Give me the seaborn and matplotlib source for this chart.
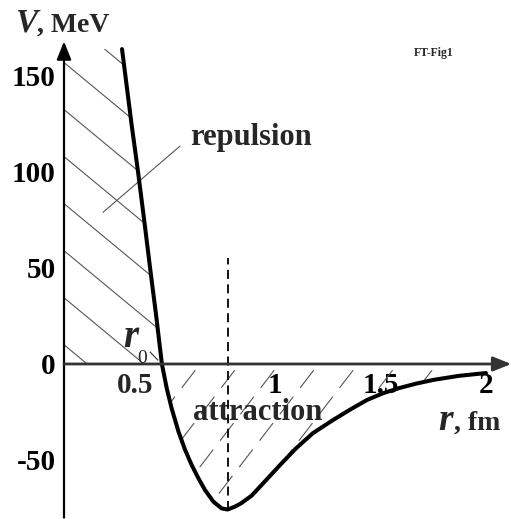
import numpy as np
import pandas as pd
import matplotlib
matplotlib.use("Agg")
import matplotlib.pyplot as plt
import seaborn as sns

# ---- data ----
r_fm = [0.275, 0.29, 0.32, 0.351, 0.38, 0.408, 0.437, 0.464, 0.487, 0.510,
        0.542, 0.573, 0.605, 0.637, 0.668, 0.708, 0.747, 0.775, 0.81, 0.84,
        0.89, 0.945, 1.024, 1.10, 1.18, 1.275, 1.36, 1.436, 1.51, 1.59, 1.67,
        1.75, 1.87, 2.0]
V_mev = [164, 151, 125, 100, 75, 50, 25, 0, -12.7, -23,
         -35, -44.5, -52.6, -59.5, -65.6, -71.7, -75.2, -75.8, -74.3, -72.5,
         -68.5, -62, -52.6, -43.9, -36, -29.2, -23.5, -18.75, -15.3, -12.5, -10.2,
         -8.3, -6.2, -4.7]

y_ticks = [150, 100, 50, 0, -25, -50, -75]
y_tick_labels = ["150", "100", "50", "0", "", "-50", ""]
x_ticks = [1, 1.5, 2]
x_tick_labels = ["1", "1.5", "2"]

sns.set_style("white")
plt.rcParams["font.family"] = ["Liberation Serif", "DejaVu Serif"]
plt.rcParams["font.weight"] = "bold"

fig = plt.figure(figsize=(5.11, 5.19), dpi=100)
ax = fig.add_axes([64 / 511, 1.4 / 519, 447.3 / 511, 476.2 / 519])

df = pd.DataFrame({"r": r_fm, "V": V_mev})
sns.lineplot(data=df, x="r", y="V", sort=False, estimator=None,
             color="black", linewidth=2.9, ax=ax, zorder=5)
for ln in ax.get_lines():
    ln.set_solid_joinstyle("round")

# hatched regions
rep = df[df.V >= 0]
poly_rep = ax.fill_betweenx(rep.V, 0, rep.r, color="none", linewidth=0)
att = df[df.V <= 0]
poly_att = ax.fill_between(att.r, att.V, 0, color="none", linewidth=0)

rr = np.array([-0.1, 2.2])
for c in np.arange(10, 190, 24.5):
    ln, = ax.plot(rr, c - 91 * rr, color="#555555", lw=0.8, zorder=2)
    ln.set_clip_path(poly_rep.get_paths()[0], ax.transData)
for a in np.arange(0.645, 1.8, 0.187):
    ln, = ax.plot(rr, 143 * (rr - a), color="#555555", lw=0.8, zorder=2,
                  dashes=(20, 10))
    ln.set_clip_path(poly_att.get_paths()[0], ax.transData)

# dashed line at minimum
imin = int(np.argmin(V_mev))
ax.plot([r_fm[imin], r_fm[imin]], [V_mev[imin], 55], color="black",
        lw=1.3, dashes=(5, 3), zorder=4)

# axes with arrows
for s in ax.spines.values():
    s.set_visible(False)
ax.spines["left"].set_position(("data", 0))
ax.spines["bottom"].set_position(("data", 0))
ax.set_xlim(0, 2.12)
ax.set_ylim(-80, 168)
arrow_kw = dict(arrowstyle="-|>,head_length=0.55,head_width=0.22",
                mutation_scale=20, shrinkA=0, shrinkB=0)
ax.annotate("", xy=(0, 168), xytext=(0, -80),
            arrowprops=dict(color="black", lw=1.6, **arrow_kw),
            annotation_clip=False, zorder=6)
ax.annotate("", xy=(2.12, 0), xytext=(0, 0),
            arrowprops=dict(color="#333333", lw=2.0, **arrow_kw),
            annotation_clip=False, zorder=6)

ax.set_yticks(y_ticks, y_tick_labels)
ax.set_xticks(x_ticks, x_tick_labels)
ax.tick_params(direction="in", length=7, width=1.3, labelsize=21, pad=6,
               colors="black")
ax.set_xlabel("")
ax.set_ylabel("")
ax.annotate("0.5", xy=(0.335, 0), xytext=(0, -6), textcoords="offset points",
            ha="center", va="top", fontsize=21)

# labels
ax.text(0.60, 114, "repulsion", fontsize=22, ha="left", va="baseline")
ax.plot([0.185, 0.55], [79, 113.5], color="#555555", lw=0.8)
ax.text(0.611, -29, "attraction", fontsize=22, ha="left", va="baseline",
        zorder=3)
ax.text(0.28, 8.9, "r", fontsize=28, style="italic", ha="left", va="baseline")
ax.text(0.345, 0.5, "0", fontsize=14, weight="normal", ha="left", va="baseline")
ax.plot([0.408, 0.445], [6.25, 2], color="#333333", lw=0.8)

ax.text(1.772, -34.4, "r", fontsize=27, style="italic", ha="left", va="baseline")
ax.text(1.85, -34.4, ", fm", fontsize=20, ha="left", va="baseline")

fig.text(15 / 511, 1 - 32 / 519, "V", fontsize=24, style="italic",
         ha="left", va="baseline")
fig.text(37 / 511, 1 - 32 / 519, ", MeV", fontsize=20, ha="left", va="baseline")
fig.text(434 / 511, 1 - 53 / 519, "FT-Fig1", fontsize=8.5, ha="center",
         va="center")

fig.savefig("out.png", dpi=100)
